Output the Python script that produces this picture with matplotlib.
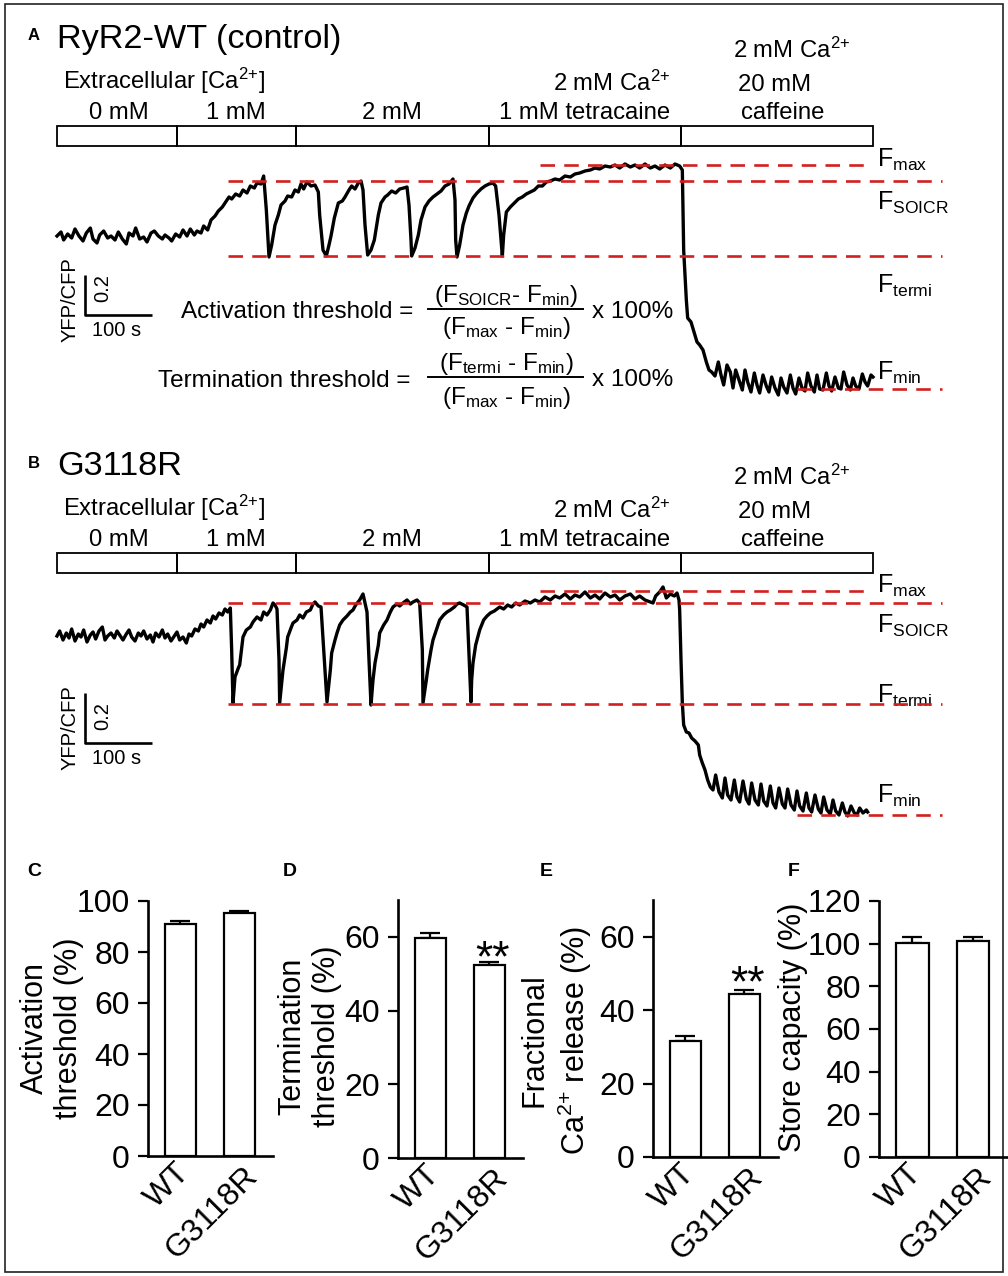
import numpy as np
import matplotlib
matplotlib.use('Agg')
import matplotlib.pyplot as plt
from matplotlib import transforms, font_manager
from matplotlib.patches import Rectangle

# ---- data ----
# panel A, RyR2-WT trace: time (s), YFP/CFP ratio
A_T = [
    # baseline, 0 mM -> 1 mM
    0, 6, 10, 16, 22, 27, 33, 39, 44, 50, 54, 60, 64, 70, 76, 81, 87, 92, 98, 104,
    108, 114, 118, 124, 130, 135, 141, 146, 152, 158, 162, 168, 172, 178, 184, 189, 195, 200, 206, 210,
    216, 220, 226, 231, 237,
    # rise + SOICR events
    242, 248, 252, 258, 262, 268, 274, 279, 285, 290, 296, 300, 306, 310, 314, 318,
    322, 327, 332, 336, 342, 346, 352, 357, 362, 366, 370, 375, 381, 387, 392, 394, 399, 404,
    408, 411, 416, 422, 428, 432, 438, 442, 447, 452, 456, 459, 462, 466,
    471, 476, 482, 486, 492, 496, 502, 508, 514, 520, 525, 528, 531, 532,
    537, 542, 546, 552, 558, 564, 570, 576, 582, 588, 594, 597, 598, 600,
    604, 609, 614, 618, 624, 630, 636, 642, 648, 654, 658, 663, 668,
    # tetracaine
    670, 674, 680, 686, 692, 698, 704, 710, 716, 722, 728, 734, 740, 747, 754, 762, 770, 777, 784, 792,
    800, 807, 814, 822, 830, 837, 844, 852, 860, 867, 874, 882, 890, 897, 904, 912, 920, 927, 934, 938,
    # caffeine
    940, 944, 946, 951, 956, 960, 964, 969, 974, 978, 982, 987,
    992, 996, 1000, 1005, 1010, 1014, 1018, 1023, 1028, 1032, 1036, 1041, 1046, 1050, 1054, 1059, 1064, 1068,
    1072, 1077, 1082, 1086, 1090, 1095, 1100, 1104, 1108, 1113, 1118, 1122, 1126, 1131, 1136, 1140, 1144,
    1149, 1154, 1158, 1162, 1167, 1172, 1176, 1180, 1185, 1190, 1194, 1198, 1203, 1208, 1212, 1216, 1221, 1224,
]
A_R = [
    1.82, 1.84, 1.80, 1.83, 1.81, 1.855, 1.82, 1.795, 1.835, 1.86, 1.805, 1.785, 1.825, 1.845, 1.81, 1.82, 1.80, 1.84, 1.805, 1.78,
    1.835, 1.82, 1.86, 1.805, 1.815, 1.79, 1.835, 1.845, 1.82, 1.805, 1.825, 1.81, 1.795, 1.83, 1.815, 1.85, 1.82, 1.855, 1.825, 1.845,
    1.835, 1.87, 1.85, 1.90, 1.92,
    1.945, 1.965, 1.985, 2.015, 2.005, 2.03, 2.02, 2.05, 2.035, 2.07, 2.06, 2.085, 2.08, 2.12, 1.95, 1.715,
    1.775, 1.875, 1.925, 1.975, 1.995, 2.02, 2.015, 2.05, 2.04, 2.08, 2.055, 2.09, 2.07, 2.075, 2.04, 1.925, 1.75, 1.72,
    1.775, 1.82, 1.91, 1.985, 1.995, 2.015, 2.05, 2.07, 2.055, 2.085, 2.095, 2.05, 1.875, 1.725,
    1.75, 1.80, 1.925, 1.985, 2.015, 2.025, 2.045, 2.035, 2.055, 2.06, 2.065, 1.975, 1.80, 1.72,
    1.76, 1.825, 1.90, 1.965, 1.995, 2.015, 2.03, 2.045, 2.07, 2.08, 2.105, 2.00, 1.80, 1.715,
    1.775, 1.875, 1.935, 1.97, 2.01, 2.035, 2.055, 2.07, 2.08, 2.085, 2.07, 1.925, 1.72,
    1.825, 1.94, 1.965, 1.985, 2.005, 2.015, 2.03, 2.04, 2.05, 2.07, 2.07, 2.09, 2.095, 2.105, 2.10, 2.12, 2.115, 2.13, 2.135, 2.145,
    2.15, 2.16, 2.155, 2.17, 2.165, 2.175, 2.16, 2.18, 2.165, 2.175, 2.16, 2.18, 2.16, 2.17, 2.155, 2.175, 2.16, 2.18, 2.17, 2.15,
    1.75, 1.50, 1.41, 1.39, 1.335, 1.29, 1.275, 1.25, 1.19, 1.15, 1.14, 1.12,
    1.19, 1.125, 1.075, 1.175, 1.14, 1.06, 1.15, 1.10, 1.05, 1.15, 1.09, 1.04, 1.135, 1.075, 1.035, 1.125, 1.07, 1.04,
    1.115, 1.06, 1.025, 1.11, 1.065, 1.035, 1.125, 1.06, 1.03, 1.11, 1.055, 1.045, 1.135, 1.07, 1.04, 1.125, 1.055,
    1.05, 1.135, 1.07, 1.045, 1.115, 1.06, 1.055, 1.14, 1.075, 1.05, 1.11, 1.07, 1.055, 1.13, 1.09, 1.07, 1.125, 1.115,
]

# panel B, G3118R trace
B_T = [
    0, 4, 9, 14, 18, 22, 27, 32, 36, 40, 45, 50, 54, 58, 63, 68, 72, 76, 81, 86,
    90, 94, 99, 104, 108, 112, 117, 122, 126, 130, 135, 140, 144, 148, 153, 158, 162, 166, 171, 176,
    180, 184, 189, 194, 198,
    202, 207, 212, 216, 220, 225, 230, 234, 238, 243, 248, 252, 256, 260, 262, 264,
    267, 272, 274, 279, 284, 290, 294, 300, 306, 310, 315, 320, 324, 327, 330, 333, 334,
    339, 344, 346, 351, 354, 360, 364, 369, 374, 380, 384, 387, 392, 396, 400, 405,
    410, 412, 417, 420, 424, 429, 435, 440, 444, 448, 454, 459, 462, 465, 468, 471,
    474, 477, 482, 484, 490, 495, 500, 504, 510, 514, 519, 525, 530, 534, 540, 544, 548, 549,
    554, 556, 561, 564, 570, 574, 580, 585, 590, 596, 600, 604, 610, 615, 618, 621,
    622, 624, 628, 632, 634, 640, 645, 650, 656, 660, 664, 670, 676, 682, 688, 694, 702, 710, 717, 724,
    732, 740, 747, 754, 762, 770, 777, 784, 792, 800, 807, 814, 822, 830, 837, 844, 852, 860, 867, 874,
    882, 890, 894, 898, 904, 909, 914, 920, 926, 930, 933, 934,
    936, 938, 940, 944, 948, 952, 957, 962, 964, 968, 972, 976, 980,
    984, 988, 993, 998, 1002, 1006, 1011, 1016, 1020, 1024, 1029, 1034, 1038, 1042, 1047, 1052, 1056, 1060,
    1065, 1070, 1074, 1078, 1083, 1088, 1092, 1096, 1101, 1106, 1110, 1114, 1119, 1124, 1128, 1132, 1137,
    1142, 1146, 1150, 1155, 1160, 1164, 1168, 1173, 1178, 1182, 1186, 1191, 1196, 1200, 1204, 1209, 1214, 1216,
]
B_R = [
    1.736, 1.756, 1.72, 1.748, 1.728, 1.764, 1.716, 1.744, 1.732, 1.76, 1.712, 1.74, 1.752, 1.724, 1.756, 1.772, 1.72, 1.736, 1.748, 1.728,
    1.756, 1.74, 1.72, 1.744, 1.76, 1.732, 1.716, 1.748, 1.736, 1.756, 1.724, 1.74, 1.712, 1.748, 1.732, 1.76, 1.728, 1.744, 1.716, 1.736,
    1.752, 1.72, 1.732, 1.708, 1.744,
    1.736, 1.764, 1.756, 1.784, 1.772, 1.80, 1.788, 1.816, 1.804, 1.828, 1.82, 1.844, 1.832, 1.848, 1.68, 1.468,
    1.572, 1.608, 1.62, 1.732, 1.76, 1.772, 1.792, 1.812, 1.80, 1.832, 1.82, 1.84, 1.868, 1.86, 1.844, 1.64, 1.468,
    1.60, 1.688, 1.732, 1.768, 1.788, 1.80, 1.82, 1.808, 1.832, 1.84, 1.864, 1.872, 1.856, 1.852, 1.68, 1.472,
    1.60, 1.668, 1.72, 1.748, 1.78, 1.80, 1.816, 1.832, 1.84, 1.86, 1.88, 1.904, 1.868, 1.832, 1.64, 1.46,
    1.56, 1.628, 1.70, 1.748, 1.78, 1.80, 1.832, 1.852, 1.864, 1.856, 1.868, 1.88, 1.864, 1.872, 1.88, 1.868, 1.68, 1.468,
    1.56, 1.60, 1.68, 1.72, 1.768, 1.80, 1.82, 1.832, 1.84, 1.852, 1.864, 1.868, 1.86, 1.852, 1.66, 1.472,
    1.56, 1.628, 1.70, 1.74, 1.76, 1.80, 1.816, 1.828, 1.836, 1.844, 1.852, 1.844, 1.86, 1.852, 1.868, 1.86, 1.876, 1.868, 1.88, 1.872,
    1.892, 1.88, 1.896, 1.888, 1.904, 1.884, 1.90, 1.892, 1.912, 1.888, 1.90, 1.884, 1.908, 1.892, 1.90, 1.88, 1.896, 1.904, 1.884, 1.896,
    1.88, 1.872, 1.868, 1.896, 1.912, 1.932, 1.888, 1.904, 1.896, 1.908, 1.88, 1.84,
    1.64, 1.468, 1.38, 1.352, 1.348, 1.328, 1.316, 1.30, 1.26, 1.228, 1.20, 1.16, 1.132,
    1.12, 1.18, 1.112, 1.088, 1.168, 1.10, 1.08, 1.16, 1.092, 1.072, 1.156, 1.084, 1.064, 1.148, 1.08, 1.06, 1.144, 1.076,
    1.056, 1.136, 1.068, 1.048, 1.128, 1.064, 1.048, 1.124, 1.06, 1.04, 1.116, 1.056, 1.036, 1.108, 1.048, 1.032, 1.10,
    1.044, 1.028, 1.092, 1.04, 1.024, 1.08, 1.036, 1.02, 1.068, 1.032, 1.016, 1.056, 1.028, 1.02, 1.048, 1.028, 1.04, 1.032,
]

# solution switch times (s)
SOLUTION_T = [0, 180, 358, 648, 936, 1224]

# reference levels: max, SOICR, termi, min
REF_NAMES = ['max', 'SOICR', 'termi', 'min']
A_REF = [2.175, 2.095, 1.72, 1.055]
B_REF = [1.916, 1.868, 1.464, 1.02]
REF_T0 = [724, 256, 256, 1110]
REF_T1 = [1216, 1327, 1327, 1327]

# bar panels
GROUPS = ['WT', 'G3118R']
ACT_MEAN, ACT_SEM = [91.0, 95.3], [1.2, 0.9]
TERM_MEAN, TERM_SEM = [59.7, 52.3], [1.4, 1.0]
FRAC_MEAN, FRAC_SEM = [31.5, 44.4], [1.5, 1.2]
STORE_MEAN, STORE_SEM = [100.4, 101.2], [2.6, 1.8]

# ---- fonts ----
names = {f.name for f in font_manager.fontManager.ttflist}
SANS = 'Liberation Sans' if 'Liberation Sans' in names else 'DejaVu Sans'
NARROW = 'Liberation Sans Narrow' if 'Liberation Sans Narrow' in names else SANS
NS = 1.0 if NARROW != SANS else 0.88
plt.rcParams['font.family'] = [SANS, 'DejaVu Sans']
plt.rcParams['mathtext.default'] = 'regular'

CA = 'Ca$^{2{+}}$'

W, H = 1008, 1276
fig = plt.figure(figsize=(W / 100, H / 100), dpi=100)

over = fig.add_axes([0, 0, 1, 1])
over.set_xlim(0, W)
over.set_ylim(H, 0)
over.axis('off')


def put(x, y, s, **kw):
    over.text(x, y, s, **kw)


# outer frame
over.add_patch(Rectangle((5, 4), W - 10, H - 8, fill=False, lw=1.2, ec='#222222'))

RED = '#d21f1f'


def trace_panel(top, bot, r_lo, r_hi, t, r, refs, dy, title, letter, bar_r):
    ax = fig.add_axes([57 / W, 1 - bot / H, 885 / W, (bot - top) / H])
    ax.set_xlim(0, 1327.5)
    ax.set_ylim(r_lo, r_hi)
    ax.axis('off')
    n = min(len(t), len(r))
    if n != len(t) or n != len(r):
        print('length mismatch', len(t), len(r))
    ax.plot(t[:n], r[:n], color='black', lw=2.4, solid_joinstyle='round', clip_on=False)
    for lev, t0, t1 in zip(refs, REF_T0, REF_T1):
        ax.plot([t0, t1], [lev, lev], color=RED, lw=1.9, dashes=(5.5, 3.5), clip_on=False)

    # scale bar: 100 s x 0.2
    sx = 42
    ax.plot([sx, sx, sx + 100], [bar_r + 0.2, bar_r, bar_r], color='black', lw=1.9,
            solid_capstyle='butt', clip_on=False)

    # solution bar
    trans = transforms.blended_transform_factory(ax.transData, over.transData)
    for t0, t1 in zip(SOLUTION_T[:-1], SOLUTION_T[1:]):
        over.add_patch(Rectangle((t0, 126 + dy), t1 - t0, 20, transform=trans,
                                 fill=False, lw=1.3, ec='black'))
    hs = 19.5 * NS
    hdr = [
        ('Extracellular [%s]' % CA, 63, 89, 'left'),
        ('0 mM', 119, 119, 'center'),
        ('1 mM', 236, 119, 'center'),
        ('2 mM', 392, 119, 'center'),
        ('1 mM tetracaine', 585, 119, 'center'),
        ('2 mM ' + CA, 670, 91, 'right'),
        ('2 mM ' + CA, 792, 58, 'center'),
        ('20 mM', 775, 91, 'center'),
        ('caffeine', 783, 119, 'center'),
    ]
    for s, x, y, ha in hdr:
        put(x, y + dy, s, ha=ha, va='baseline', fontsize=hs, family=NARROW)
    put(57, 48 + dy, title, ha='left', va='baseline', fontsize=28 * NS, family=NARROW)
    put(34, 36 + dy, letter, ha='center', va='center', fontsize=12, fontweight='bold')
    return ax


axA = trace_panel(150, 400, 1.0, 2.25, A_T, A_R, A_REF, 0, 'RyR2-WT (control)', 'A', 1.425)
axB = trace_panel(575, 830, 0.96, 1.98, B_T, B_R, B_REF, 427, 'G3118R', 'B', 1.308)

# scale bar text
for (yc, y02, y100) in [(300, 288, 330), (728, 716, 758)]:
    put(70, yc, 'YFP/CFP', rotation=90, ha='center', va='center', fontsize=14.5)
    put(103, y02, '0.2', rotation=90, ha='center', va='center', fontsize=14.5)
    put(117, y100, '100 s', ha='center', va='center', fontsize=14.5)

# F labels
FS = 18
for base in [(167, 210, 293, 380), (593, 633, 703, 803)]:
    for name, yb in zip(REF_NAMES, base):
        put(877, yb, 'F$_{%s}$' % name, ha='left', va='baseline', fontsize=FS)

# threshold formulas
ff = 17.5
put(413, 318, 'Activation threshold =', ha='right', va='baseline', fontsize=ff)
put(506, 302, '(F$_{SOICR}$- F$_{min}$)', ha='center', va='baseline', fontsize=ff)
put(506, 334, '(F$_{max}$ - F$_{min}$)', ha='center', va='baseline', fontsize=ff)
over.plot([428, 583], [309, 309], color='black', lw=1.4)
put(592, 318, 'x 100%', ha='left', va='baseline', fontsize=ff)

put(410, 387, 'Termination threshold =', ha='right', va='baseline', fontsize=ff)
put(506, 370, '(F$_{termi}$ - F$_{min}$)', ha='center', va='baseline', fontsize=ff)
put(506, 404, '(F$_{max}$ - F$_{min}$)', ha='center', va='baseline', fontsize=ff)
over.plot([428, 583], [377, 377], color='black', lw=1.4)
put(592, 386, 'x 100%', ha='left', va='baseline', fontsize=ff)


# ---- bar panels ----
LABEL_OFFSETS = [(5, -12), (14, -16)]  # pixels, for WT / G3118R labels


def bar_panel(x0, x1, ytop, ybot, means, sems, ymax, yticks):
    ax = fig.add_axes([x0 / W, 1 - ybot / H, (x1 - x0) / W, (ybot - ytop) / H])
    ax.bar([0, 1], means, width=0.53, color='white', edgecolor='black', linewidth=1.6, zorder=3)
    ax.errorbar([0, 1], means, yerr=[[0, 0], sems], fmt='none', ecolor='black',
                elinewidth=1.6, capsize=7, capthick=1.6, zorder=2)
    ax.set_xlim(-0.55, 1.57)
    ax.set_ylim(0, ymax)
    ax.set_yticks(yticks)
    ax.set_xticks([])
    for i, (g, off) in enumerate(zip(GROUPS, LABEL_OFFSETS)):
        ax.annotate(g, xy=(i, 0), xycoords=('data', 'axes fraction'), xytext=off,
                    textcoords='offset pixels', rotation=45, ha='right', va='center',
                    rotation_mode='anchor', fontsize=23, annotation_clip=False)
    for s in ['top', 'right']:
        ax.spines[s].set_visible(False)
    for s in ['left', 'bottom']:
        ax.spines[s].set_linewidth(1.9)
    ax.tick_params(axis='y', length=7, width=1.6, labelsize=23, pad=6)
    ax.patch.set_visible(False)
    return ax


bar_panel(148, 273, 901, 1156, ACT_MEAN, ACT_SEM, 100, [0, 20, 40, 60, 80, 100])
bar_panel(398, 523, 900, 1158, TERM_MEAN, TERM_SEM, 70, [0, 20, 40, 60])
bar_panel(653, 778, 900, 1157, FRAC_MEAN, FRAC_SEM, 70, [0, 20, 40, 60])
bar_panel(879, 1008, 901, 1157, STORE_MEAN, STORE_SEM, 120, [0, 20, 40, 60, 80, 100, 120])

put(52, 1028, 'Activation\nthreshold (%)', rotation=90, ha='center', va='center', fontsize=22)
put(310, 1036, 'Termination\nthreshold (%)', rotation=90, ha='center', va='center', fontsize=22)
put(557, 1040, 'Fractional\n%s release (%%)' % CA, rotation=90, ha='center', va='center', fontsize=22)
put(793, 1027, 'Store capacity (%)', rotation=90, ha='center', va='center', fontsize=22)

put(493, 971, '**', ha='center', va='baseline', fontsize=32)
put(748, 996, '**', ha='center', va='baseline', fontsize=32)

for letter, x in [('C', 34), ('D', 290), ('E', 546), ('F', 794)]:
    put(x, 872, letter, ha='center', va='center', fontsize=14, fontweight='bold')

fig.savefig('out.png', dpi=100)
